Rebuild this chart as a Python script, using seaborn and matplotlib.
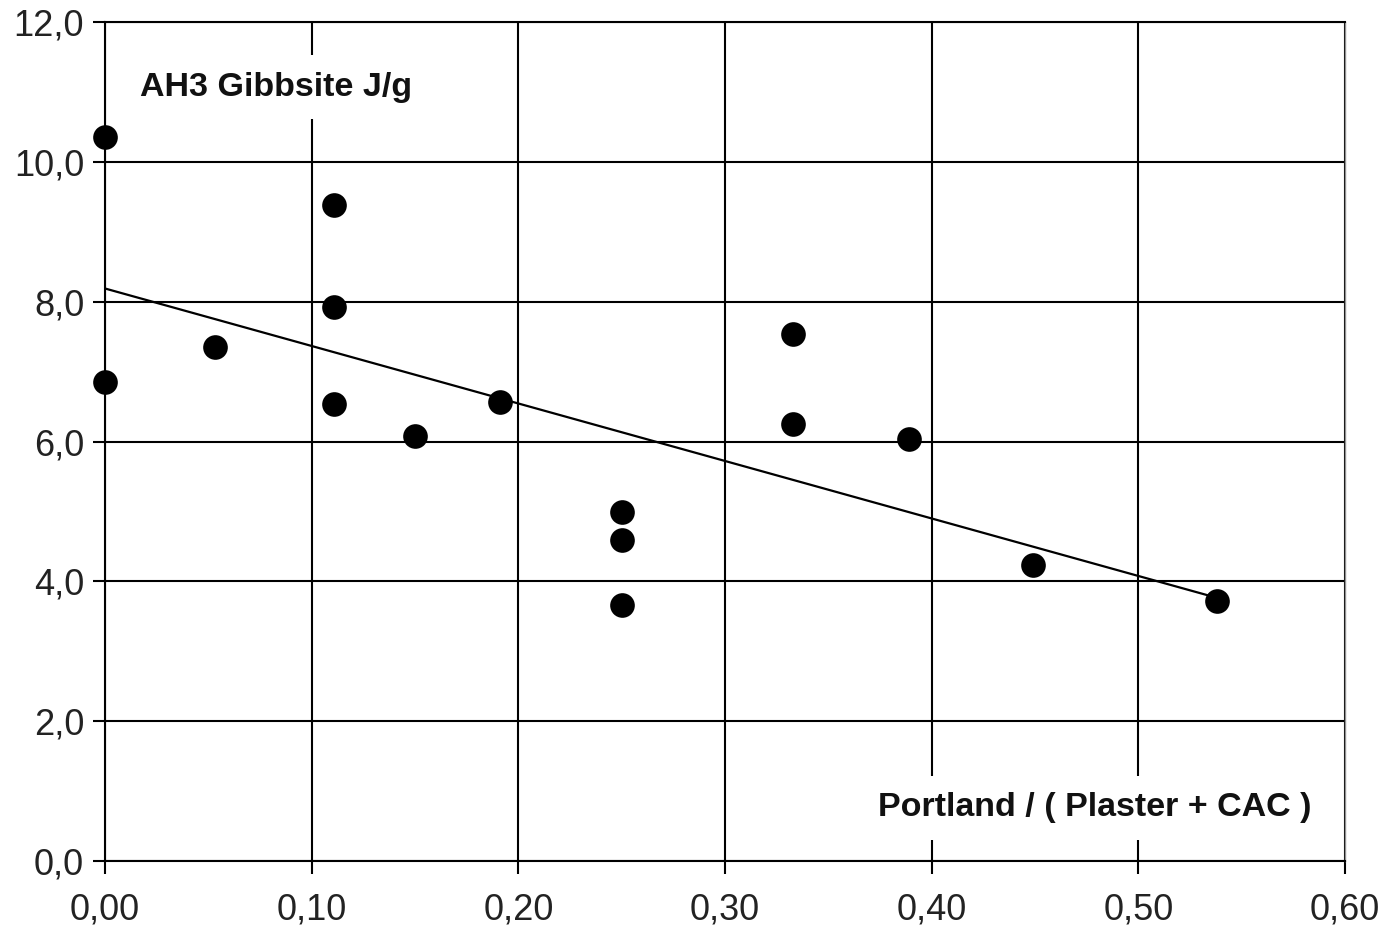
import matplotlib.pyplot as plt
import matplotlib.ticker as mticker
import seaborn as sns
import pandas as pd

# ratio Portland / (Plaster + CAC) and AH3 gibbsite heat (J/g)
ratio = [0.0, 0.0, 0.053, 0.111, 0.111, 0.111, 0.150, 0.191,
         0.250, 0.250, 0.250, 0.333, 0.333, 0.389, 0.449, 0.538]
gibbsite = [10.36, 6.85, 7.35, 9.38, 7.93, 6.54, 6.08, 6.57,
            4.99, 4.59, 3.66, 7.54, 6.25, 6.04, 4.23, 3.72]

x_ticks = [0.0, 0.1, 0.2, 0.3, 0.4, 0.5, 0.6]
y_ticks = [0, 2, 4, 6, 8, 10, 12]

df = pd.DataFrame({"ratio": ratio, "gibbsite": gibbsite})

sns.set_style("white")
plt.rcParams["font.family"] = ["Liberation Sans", "DejaVu Sans"]

fig = plt.figure(figsize=(13.87, 9.35), dpi=100)
ax = fig.add_axes([0.0757, 0.0791, 0.8940, 0.8974])

# regression line (least squares, like the spreadsheet trendline)
sns.regplot(data=df, x="ratio", y="gibbsite", ax=ax, ci=None,
            scatter=False, line_kws={"color": "black", "lw": 1.6, "zorder": 3})
sns.scatterplot(data=df, x="ratio", y="gibbsite", ax=ax, s=270,
                color="black", edgecolor="black", zorder=4, clip_on=False,
                legend=False)

ax.set_xlim(0, 0.6)
ax.set_ylim(0, 12)
ax.set_xticks(x_ticks)
ax.set_yticks(y_ticks)
ax.xaxis.set_major_formatter(mticker.FuncFormatter(lambda v, p: f"{v:.2f}".replace(".", ",")))
ax.yaxis.set_major_formatter(mticker.FuncFormatter(lambda v, p: f"{v:.1f}".replace(".", ",")))

ax.grid(True, color="black", lw=1.5, zorder=1)
ax.set_axisbelow(True)
ax.tick_params(axis="both", direction="out", length=9, width=1.5,
               bottom=True, left=True,
               colors="black", labelcolor="#222222", labelsize=26)
ax.tick_params(axis="y", pad=6)
ax.tick_params(axis="x", pad=14)

for side in ["left", "bottom", "top"]:
    ax.spines[side].set_color("black")
    ax.spines[side].set_linewidth(1.5)
ax.spines["right"].set_color("#909090")
ax.spines["right"].set_linewidth(1.0)

ax.set_xlabel("")
ax.set_ylabel("")

ax.text(0.017, 11.07, "AH3 Gibbsite J/g", fontsize=24.5, fontweight="bold",
        ha="left", va="center", color="#111111", zorder=5,
        bbox=dict(facecolor="white", edgecolor="none", pad=12))
ax.text(0.5836, 0.76, "Portland / ( Plaster + CAC )", fontsize=24.5,
        fontweight="bold", ha="right", va="center", color="#111111", zorder=5,
        bbox=dict(facecolor="white", edgecolor="none", pad=12))

fig.savefig("out.png", dpi=100, facecolor="white")
